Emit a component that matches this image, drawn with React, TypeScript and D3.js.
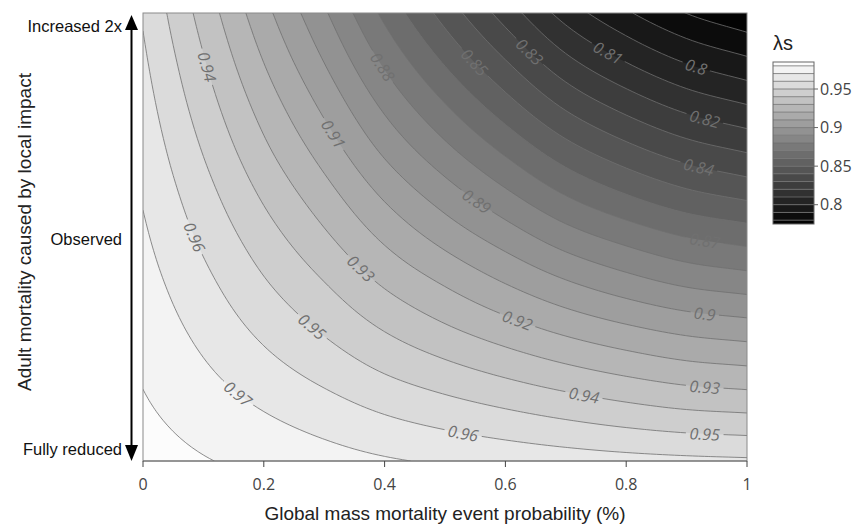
import React, { useMemo } from "react";
import * as d3 from "d3";

// ---- data ----
const xProbability = [0, 0.1, 0.2, 0.3, 0.4, 0.5, 0.6, 0.7, 0.8, 0.9, 1];
const yLocalImpact = [0, 0.2, 0.4, 0.6, 0.8, 1.0, 1.2, 1.4, 1.6, 1.8, 2.0];
// rows: yLocalImpact (0 = fully reduced ... 2 = increased 2x), columns: xProbability
const lambdaS = [
  [0.984, 0.9806, 0.9773, 0.9741, 0.9711, 0.9687, 0.9667, 0.9649, 0.9634, 0.9623, 0.9615],
  [0.9815, 0.9761, 0.9707, 0.9656, 0.9604, 0.9562, 0.9524, 0.9488, 0.9455, 0.9428, 0.9414],
  [0.979, 0.9714, 0.9638, 0.9567, 0.9494, 0.9434, 0.9379, 0.9327, 0.9281, 0.9243, 0.9223],
  [0.9765, 0.9669, 0.9572, 0.9482, 0.9388, 0.9308, 0.9235, 0.9166, 0.9109, 0.9063, 0.9037],
  [0.974, 0.9625, 0.9508, 0.94, 0.9284, 0.9187, 0.9094, 0.9007, 0.8936, 0.8878, 0.8846],
  [0.9715, 0.958, 0.9445, 0.9317, 0.9181, 0.9063, 0.8954, 0.8847, 0.8766, 0.8699, 0.866],
  [0.969, 0.9536, 0.9381, 0.9235, 0.9078, 0.8942, 0.8813, 0.8688, 0.8592, 0.8514, 0.8464],
  [0.9665, 0.9491, 0.9317, 0.9152, 0.8974, 0.8819, 0.8672, 0.853, 0.8422, 0.8335, 0.8278],
  [0.964, 0.9447, 0.9255, 0.9071, 0.8873, 0.8698, 0.8532, 0.8372, 0.8253, 0.8156, 0.8092],
  [0.9615, 0.9404, 0.9193, 0.8991, 0.8773, 0.8578, 0.8394, 0.8215, 0.8083, 0.7977, 0.7906],
  [0.959, 0.9361, 0.9133, 0.8914, 0.8675, 0.846, 0.8256, 0.8058, 0.7914, 0.7798, 0.772],
];
const contourStart = 0.78;
const contourEnd = 0.98;
const contourSize = 0.01;
const xTicks = [0, 0.2, 0.4, 0.6, 0.8, 1];
const yTickValues = [0.051, 0.987, 1.94];
const yTickLabels = ["Fully reduced", "Observed", "Increased 2x"];
const colorbarTicks = [0.8, 0.85, 0.9, 0.95];
// which contour levels carry a label, and roughly where (layout hints)
const labelLevels = [0.94, 0.91, 0.88, 0.85, 0.83, 0.81, 0.8, 0.82, 0.84, 0.87, 0.89, 0.9, 0.92, 0.93, 0.93, 0.94, 0.95, 0.95, 0.96, 0.96, 0.97];
const labelHints: [number, number][] = [
  [203, 68], [330, 133], [380, 66], [477, 60], [528, 55], [612, 45], [695, 69], [702, 118], [698, 165], [708, 238],
  [480, 200], [703, 314], [520, 320], [362, 270], [707, 387], [587, 395], [305, 332], [707, 435], [188, 240], [462, 435], [235, 398],
];

const W = 855;
const H = 524;
const P = { x0: 143, x1: 747, y0: 13, y1: 461 };

function cr(p0: number, p1: number, p2: number, p3: number, t: number) {
  return 0.5 * (2 * p1 + (-p0 + p2) * t + (2 * p0 - 5 * p1 + 4 * p2 - p3) * t * t + (-p0 + 3 * p1 - 3 * p2 + p3) * t * t * t);
}

function smoothGrid(grid: number[][], f: number) {
  const rows = grid.length;
  const cols = grid[0].length;
  const get = (r: number, c: number): number => {
    if (c < 0) return 2 * get(r, 0) - get(r, 1);
    if (c >= cols) return 2 * get(r, cols - 1) - get(r, cols - 2);
    if (r < 0) return 2 * get(0, c) - get(1, c);
    if (r >= rows) return 2 * get(rows - 1, c) - get(rows - 2, c);
    return grid[r][c];
  };
  const nx = (cols - 1) * f + 1;
  const ny = (rows - 1) * f + 1;
  const values = new Array(nx * ny);
  for (let j = 0; j < ny; j++) {
    const v = j / f;
    const r = Math.min(Math.floor(v), rows - 2);
    const t = v - r;
    for (let i = 0; i < nx; i++) {
      const u = i / f;
      const c = Math.min(Math.floor(u), cols - 2);
      const s = u - c;
      const cv = [-1, 0, 1, 2].map((dr) => cr(get(r + dr, c - 1), get(r + dr, c), get(r + dr, c + 1), get(r + dr, c + 2), s));
      values[j * nx + i] = cr(cv[0], cv[1], cv[2], cv[3], t);
    }
  }
  return { nx, ny, values };
}

const fmt = (v: number) => String(+v.toFixed(2));

export default function App() {
  const xs = d3.scaleLinear().domain([0, 1]).range([P.x0, P.x1]);
  const ys = d3.scaleLinear().domain([0, 2]).range([P.y1, P.y0]);
  const levels = d3.range(0, Math.round((contourEnd - contourStart) / contourSize) + 1).map((i) => +(contourStart + i * contourSize).toFixed(2));
  // plotly-style colour domain: half a step beyond the first and last contour
  const colorMin = contourStart - contourSize / 2;
  const colorMax = contourEnd + contourSize / 2;
  const grey = d3.scaleLinear<string>().domain([colorMin, colorMax]).range(["#000000", "#ffffff"]).clamp(true);
  const bounds = [colorMin, ...levels, colorMax];
  const bandColor = (k: number) => grey((bounds[k] + bounds[k + 1]) / 2);

  const { fills, labels } = useMemo(() => {
    const { nx, ny, values } = smoothGrid(lambdaS, 10);
    const x0 = xProbability[0], x1 = xProbability[xProbability.length - 1];
    const y0 = yLocalImpact[0], y1 = yLocalImpact[yLocalImpact.length - 1];
    const gx = (c: number) => xs(x0 + ((c - 0.5) / (nx - 1)) * (x1 - x0));
    const gy = (c: number) => ys(y0 + ((c - 0.5) / (ny - 1)) * (y1 - y0));
    const proj = d3.geoTransform({
      point(x: number, y: number) {
        (this as any).stream.point(gx(x), gy(y));
      },
    });
    const path = d3.geoPath(proj);
    const cs = d3.contours().size([nx, ny]).thresholds(levels)(values);
    const fills = cs.map((c, k) => ({ d: path(c as any) || "", color: bandColor(k + 1), value: c.value }));

    const labels = labelLevels.map((lv, li) => {
      const [hx, hy] = labelHints[li];
      const c = cs.find((cc) => Math.abs(cc.value - lv) < 1e-6);
      let best = { d: Infinity, x: hx, y: hy, ang: 0 };
      if (c) {
        for (const poly of c.coordinates) {
          for (const ring of poly) {
            const pts = ring.map((p) => [gx(p[0]), gy(p[1])]);
            const n = pts.length - 1;
            for (let k = 0; k < n; k++) {
              const [px, py] = pts[k];
              if (px < P.x0 + 4 || px > P.x1 - 4 || py < P.y0 + 4 || py > P.y1 - 4) continue;
              const d = (px - hx) ** 2 + (py - hy) ** 2;
              if (d < best.d) {
                const a = pts[(k - 3 + n) % n];
                const b = pts[(k + 3) % n];
                let ang = (Math.atan2(b[1] - a[1], b[0] - a[0]) * 180) / Math.PI;
                if (ang > 90) ang -= 180;
                if (ang < -90) ang += 180;
                best = { d, x: px, y: py, ang };
              }
            }
          }
        }
      }
      const text = fmt(lv);
      const w = (text.length - 1) * 0.572 * 16 + 0.266 * 16;
      return { x: best.x, y: best.y, ang: best.ang, text, w };
    });
    return { fills, labels };
  }, []);

  const cb = { x: 773, w: 41 };
  const cbScale = d3.scaleLinear().domain([colorMin, colorMax]).range([224, 62]);
  const lineColor = "#707070";
  const tickFont = "'Open Sans', sans-serif";
  const labelFont = "'Liberation Sans', Arial, sans-serif";
  const ax = 131.5;

  return (
    <svg width={W} height={H} style={{ position: "absolute", left: 0, top: 0, background: "#fff" }}>
      <defs>
        <clipPath id="plotClip">
          <rect x={P.x0} y={P.y0} width={P.x1 - P.x0} height={P.y1 - P.y0} />
        </clipPath>
        <mask id="labelMask" maskUnits="userSpaceOnUse" x={0} y={0} width={W} height={H}>
          <rect x={0} y={0} width={W} height={H} fill="white" />
          {labels.map((l, i) => (
            <rect key={i} x={-l.w / 2 - 3} y={-8} width={l.w + 6} height={16} fill="black" transform={`translate(${l.x},${l.y}) rotate(${l.ang})`} />
          ))}
        </mask>
      </defs>

      <g clipPath="url(#plotClip)">
        <rect x={P.x0} y={P.y0} width={P.x1 - P.x0} height={P.y1 - P.y0} fill={bandColor(0)} />
        {fills.map((f, i) => (
          <path key={i} d={f.d} fill={f.color} stroke="none" />
        ))}
        <g mask="url(#labelMask)">
          {fills.map((f, i) => (
            <path key={i} d={f.d} fill="none" stroke={lineColor} strokeWidth={0.8} />
          ))}
        </g>
        {labels.map((l, i) => (
          <text
            key={i}
            transform={`translate(${l.x},${l.y}) rotate(${l.ang})`}
            textAnchor="middle"
            dominantBaseline="central"
            fontFamily={tickFont}
            fontStyle="italic"
            fontSize={16}
            fill={lineColor}
          >
            {l.text}
          </text>
        ))}
      </g>

      {/* frame */}
      <rect x={P.x0} y={P.y0} width={P.x1 - P.x0} height={P.y1 - P.y0} fill="none" stroke="#8a8a8a" strokeWidth={1} />
      <line x1={P.x0} x2={P.x1} y1={P.y1} y2={P.y1} stroke="#666" strokeWidth={1} />

      {/* x axis */}
      {xTicks.map((t) => (
        <g key={t}>
          <line x1={xs(t)} x2={xs(t)} y1={P.y1} y2={P.y1 + 6} stroke="#444" strokeWidth={1} />
          <text x={xs(t)} y={490} textAnchor="middle" fontFamily={tickFont} fontSize={16} fill="#444">
            {String(t)}
          </text>
        </g>
      ))}
      <text x={(P.x0 + P.x1) / 2} y={520} textAnchor="middle" fontFamily={labelFont} fontSize={19} fill="#222">
        Global mass mortality event probability (%)
      </text>

      {/* y axis with arrow */}
      <line x1={ax} x2={ax} y1={26} y2={450} stroke="#000" strokeWidth={2} />
      <path d={`M${ax},15 L${ax - 6.5},30 L${ax + 6.5},30 Z`} fill="#000" />
      <path d={`M${ax},461 L${ax - 6.5},445 L${ax + 6.5},445 Z`} fill="#000" />
      {yTickValues.map((v, i) => (
        <text key={i} x={122} y={ys(v) + 5.5} textAnchor="end" fontFamily={labelFont} fontSize={16.5} fill="#111">
          {yTickLabels[i]}
        </text>
      ))}
      <text transform={`translate(31,232) rotate(-90)`} textAnchor="middle" fontFamily={labelFont} fontSize={19} fill="#222">
        Adult mortality caused by local impact
      </text>

      {/* colorbar */}
      <text x={773} y={50} fontFamily={labelFont} fontSize={20} fill="#222">
        λs
      </text>
      {bounds.slice(0, -1).map((lo, k) => (
        <rect key={k} x={cb.x} y={cbScale(bounds[k + 1])} width={cb.w} height={cbScale(lo) - cbScale(bounds[k + 1])} fill={bandColor(k)} />
      ))}
      {levels.map((lv) => (
        <line key={lv} x1={cb.x} x2={cb.x + cb.w} y1={cbScale(lv)} y2={cbScale(lv)} stroke={lineColor} strokeWidth={0.8} />
      ))}
      <rect x={cb.x} y={cbScale(colorMax)} width={cb.w} height={cbScale(colorMin) - cbScale(colorMax)} fill="none" stroke="#666" strokeWidth={1} />
      {colorbarTicks.map((t) => (
        <g key={t}>
          <line x1={cb.x + cb.w} x2={cb.x + cb.w + 4} y1={cbScale(t)} y2={cbScale(t)} stroke="#666" strokeWidth={1} />
          <text x={cb.x + cb.w + 6} y={cbScale(t) + 5.5} fontFamily={tickFont} fontSize={16} fill="#444">
            {fmt(t)}
          </text>
        </g>
      ))}
    </svg>
  );
}
